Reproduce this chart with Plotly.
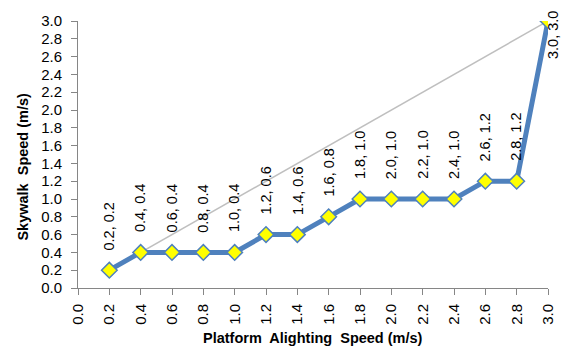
import plotly.graph_objects as go

# Platform alighting speed vs. chosen skywalk speed (m/s)
platform_speed = [0.2, 0.4, 0.6, 0.8, 1.0, 1.2, 1.4, 1.6, 1.8, 2.0, 2.2, 2.4, 2.6, 2.8, 3.0]
skywalk_speed = [0.2, 0.4, 0.4, 0.4, 0.4, 0.6, 0.6, 0.8, 1.0, 1.0, 1.0, 1.0, 1.2, 1.2, 3.0]

# Reference line (equal speeds)
ref_x = [0.2, 3.0]
ref_y = [0.2, 3.0]

tick_vals = [0.0, 0.2, 0.4, 0.6, 0.8, 1.0, 1.2, 1.4, 1.6, 1.8, 2.0, 2.2, 2.4, 2.6, 2.8, 3.0]
tick_text = ["0.0", "0.2", "0.4", "0.6", "0.8", "1.0", "1.2", "1.4", "1.6", "1.8",
             "2.0", "2.2", "2.4", "2.6", "2.8", "3.0"]

X_TITLE = "Platform  Alighting  Speed (m/s)"
Y_TITLE = "Skywalk  Speed (m/s)"

FONT = "Liberation Sans"
AXIS_COLOR = "#868686"
TICK_SIZE = 15
LABEL_SIZE = 14.5
TITLE_SIZE = 14.5

fig = go.Figure()

fig.add_trace(go.Scatter(
    x=ref_x, y=ref_y, mode="lines",
    line=dict(color="#BFBFBF", width=1.5),
    hoverinfo="skip", showlegend=False,
))

fig.add_trace(go.Scatter(
    x=platform_speed, y=skywalk_speed, mode="lines+markers",
    line=dict(color="#4F81BD", width=5),
    marker=dict(symbol="diamond", size=12, color="#FFFF00",
                line=dict(color="#4F81BD", width=1.5)),
    showlegend=False,
))

# Rotated point labels "x, y"
annotations = []
for i, (px, py) in enumerate(zip(platform_speed, skywalk_speed)):
    label = f"{px:.1f}, {py:.1f}"
    if i == len(platform_speed) - 1:
        # last point sits at the top-right corner: label to its right, kept on the page
        annotations.append(dict(
            x=px, y=py, xref="x", yref="y", text=label, showarrow=False,
            textangle=-90, xanchor="left", yanchor="top", xshift=-5, yshift=12,
            font=dict(family=FONT, size=LABEL_SIZE, color="#000000"),
        ))
    else:
        annotations.append(dict(
            x=px, y=py, xref="x", yref="y", text=label, showarrow=False,
            textangle=-90, xanchor="center", yanchor="bottom", yshift=18,
            font=dict(family=FONT, size=LABEL_SIZE, color="#000000"),
        ))

# Axis titles placed as paper annotations
annotations.append(dict(
    x=0.5, y=-0.186, xref="paper", yref="paper", text=f"<b>{X_TITLE}</b>",
    showarrow=False, xanchor="center", yanchor="middle",
    font=dict(family=FONT, size=TITLE_SIZE, color="#000000"),
))
annotations.append(dict(
    x=-0.119, y=0.455, xref="paper", yref="paper", text=f"<b>{Y_TITLE}</b>",
    showarrow=False, textangle=-90, xanchor="center", yanchor="middle",
    font=dict(family=FONT, size=TITLE_SIZE, color="#000000"),
))

fig.update_layout(
    width=568, height=347,
    margin=dict(l=78, r=19, t=13, b=59),
    paper_bgcolor="white", plot_bgcolor="white",
    font=dict(family=FONT, size=TICK_SIZE, color="#000000"),
    annotations=annotations,
    xaxis=dict(
        range=[0, 3.0], tickvals=tick_vals, ticktext=tick_text, tickangle=-90,
        showgrid=False, zeroline=False, showline=True, linecolor=AXIS_COLOR, linewidth=1,
        ticks="outside", ticklen=6, tickcolor=AXIS_COLOR, ticklabelstandoff=3,
        tickfont=dict(family=FONT, size=TICK_SIZE),
    ),
    yaxis=dict(
        range=[0, 3.0], tickvals=tick_vals, ticktext=tick_text,
        showgrid=False, zeroline=False, showline=True, linecolor=AXIS_COLOR, linewidth=1,
        ticks="outside", ticklen=6, tickcolor=AXIS_COLOR, ticklabelstandoff=6,
        tickfont=dict(family=FONT, size=TICK_SIZE),
    ),
)

fig.write_html("out.html")
